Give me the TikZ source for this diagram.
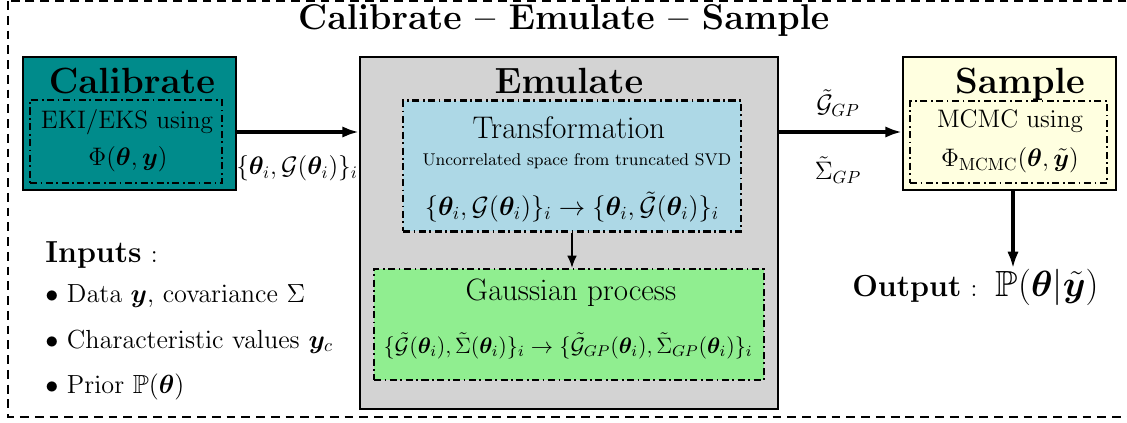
\RequirePackage{fix-cm}
\documentclass[tikz,border=0pt]{standalone}
\usepackage[OT1]{fontenc}
\renewcommand{\rmdefault}{cmr}
\usepackage{amsmath,amssymb,bm}
\usetikzlibrary{arrows.meta,calc}
\definecolor{cteal}{RGB}{0,139,139}
\definecolor{cgray}{RGB}{211,211,211}
\definecolor{cblue}{RGB}{173,216,230}
\definecolor{cgreen}{RGB}{144,238,144}
\definecolor{cyellow}{RGB}{255,255,224}
\begin{document}
\begin{tikzpicture}[x=0.02cm,y=-0.02cm,
  mainbox/.style={draw=black, line width=1.2pt, inner sep=0pt},
  innerbox/.style={draw=black, line width=1.2pt, inner sep=0pt, dash pattern=on 4pt off 2pt on 1pt off 2pt},
  bigarrow/.style={-{Latex[length=9.5pt,width=6.5pt]}, line width=2pt},
  smallarrow/.style={-{Latex[length=7pt,width=5.5pt]}, line width=1pt},
  txt/.style={inner sep=0pt, align=center},
  frame/.style={draw=black, line width=0.8pt, dash pattern=on 5pt off 3.4pt}]
\useasboundingbox (0,0) rectangle (1127,423);
\draw[frame] (8,1) rectangle (1140,417);

\node[txt, anchor=base] (title) at (564,29) {\fontsize{20.4}{24}\selectfont\bfseries Calibrate -- Emulate -- Sample};

% Calibrate
\node[mainbox, fill=cteal, minimum width=4.26cm, minimum height=2.66cm] (cal) at (129.5,123.5) {};
\node[innerbox, minimum width=3.84cm, minimum height=1.66cm] (calin) at (126,141.5) {};
\node[txt, anchor=base] (calt) at (132,93) {\huge\bfseries Calibrate};
\node[txt, anchor=base] (calu) at (127,128) {\Large EKI/EKS using};
\node[txt] (calf) at (128,159) {\Large $\Phi(\bm{\theta},\bm{y})$};

% Emulate
\node[mainbox, fill=cgray, minimum width=8.36cm, minimum height=7.04cm] (emu) at (569,233) {};
\node[txt, anchor=base] (emut) at (569,93) {\huge\bfseries Emulate};
\node[mainbox, innerbox, fill=cblue, minimum width=6.76cm, minimum height=2.62cm] (trans) at (572,166) {};
\node[txt, anchor=base] (transt) at (569,138) {\fontsize{17.8}{21}\selectfont Transformation};
\node[txt, anchor=base] (transs) at (577,165) {\fontsize{9.7}{11}\selectfont Uncorrelated space from truncated SVD};
\node[txt] (transf) at (572,207) {\fontsize{15}{18}\selectfont $\{\bm{\theta}_i,\mathcal{G}(\bm{\theta}_i)\}_i \rightarrow \{\bm{\theta}_i,\tilde{\mathcal{G}}(\bm{\theta}_i)\}_i$};
\node[mainbox, innerbox, fill=cgreen, minimum width=7.8cm, minimum height=2.22cm] (gauss) at (569,324.5) {};
\node[txt, anchor=base] (gausst) at (571,300) {\fontsize{17.6}{21}\selectfont Gaussian process};
\node[txt] (gaussf) at (568,346) {\fontsize{12.7}{15}\selectfont $\{\tilde{\mathcal{G}}(\bm{\theta}_i),\tilde{\Sigma}(\bm{\theta}_i)\}_i \rightarrow \{\tilde{\mathcal{G}}_{GP}(\bm{\theta}_i),\tilde{\Sigma}_{GP}(\bm{\theta}_i)\}_i$};

% Sample
\node[mainbox, fill=cyellow, minimum width=4.26cm, minimum height=2.66cm] (samp) at (1009.5,123.5) {};
\node[innerbox, minimum width=3.94cm, minimum height=1.64cm] (sampin) at (1008.5,142) {};
\node[txt, anchor=base] (sampt) at (1020,93) {\huge\bfseries Sample};
\node[txt, anchor=base] (sampu) at (1010,127) {\Large MCMC using};
\node[txt] (sampf) at (1010,160) {\Large $\Phi_{\mathrm{MCMC}}(\bm{\theta},\tilde{\bm{y}})$};

% arrows
\draw[bigarrow] ([yshift=-0.17cm]cal.east) -- ([yshift=-0.17cm]cal.east -| emu.west);
\node[txt] (lab1) at (297,168) {\Large $\{\bm{\theta}_i,\mathcal{G}(\bm{\theta}_i)\}_i$};
\draw[bigarrow] ([yshift=-0.17cm]samp.west -| emu.east) -- ([yshift=-0.17cm]samp.west);
\node[txt] (lab2) at (838,103) {\Large $\tilde{\mathcal{G}}_{GP}$};
\node[txt] (lab3) at (838,170) {\Large $\tilde{\Sigma}_{GP}$};
\draw[smallarrow] (trans.south) -- (trans.south |- gauss.north);

\node[txt, anchor=base west] (out) at (852,296) {\LARGE\textbf{Output} {\Large :}\ \ {\huge $\mathbb{P}(\bm{\theta}|\tilde{\bm{y}})$}};
\draw[bigarrow] ([xshift=0.07cm]samp.south) -- ([xshift=0.07cm]samp.south |- out.north);

% inputs
\node[txt, anchor=base west] (inp) at (45,262) {\LARGE\textbf{Inputs} {\Large :}};
\node[txt, anchor=base west] (in1) at (45,302) {\fontsize{14.9}{18}\selectfont $\bullet$ Data $\bm{y}$, covariance $\Sigma$};
\node[txt, anchor=base west] (in2) at (45,348) {\fontsize{14.9}{18}\selectfont $\bullet$ Characteristic values $\bm{y}_c$};
\node[txt, anchor=base west] (in3) at (45,393) {\fontsize{14.9}{18}\selectfont $\bullet$ Prior $\mathbb{P}(\bm{\theta})$};
\end{tikzpicture}
\end{document}
